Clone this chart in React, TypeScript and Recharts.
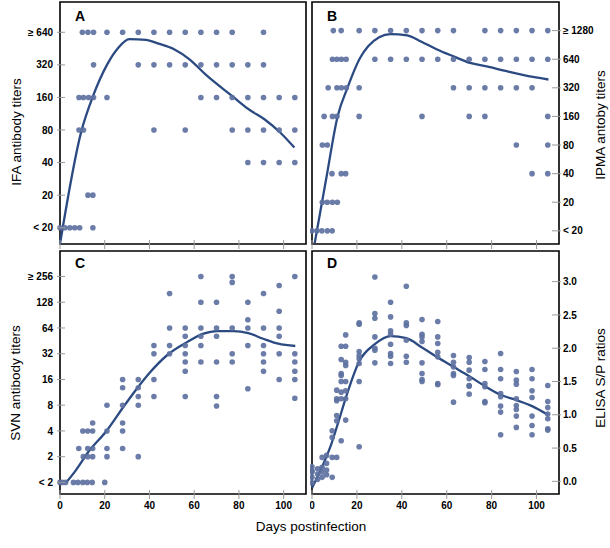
import { ComposedChart, Line, ReferenceArea, Scatter, XAxis, YAxis } from "recharts";

type Pt = [number, number];

const DAY_TICKS = [0, 20, 40, 60, 80, 100];

const IFA_LABELS = ["< 20", "20", "40", "80", "160", "320", "≥ 640"];
const IPMA_LABELS = ["< 20", "20", "40", "80", "160", "320", "640", "≥ 1280"];
const SVN_LABELS = ["< 2", "2", "4", "8", "16", "32", "64", "128", "≥ 256"];
const ELISA_TICKS = [0, 0.5, 1, 1.5, 2, 2.5, 3];

// [day, titer step] – step 0 is the lowest label
const IFA_DOTS: Pt[] = [
  [10, 6], [12.5, 6], [15, 6], [21, 6], [28, 6], [35, 6], [42, 6], [49, 6], [56, 6], [63, 6], [70, 6], [77, 6], [91, 6],
  [15, 5], [35, 5], [42, 5], [49, 5], [56, 5], [63, 5], [70, 5], [77, 5], [84, 5], [91, 5],
  [8.5, 4], [10.5, 4], [12.8, 4], [15, 4], [21, 4], [63, 4], [70, 4], [77, 4], [84, 4], [91, 4], [98, 4], [105, 4],
  [8.5, 3], [10.5, 3], [42, 3], [56, 3], [77, 3], [84, 3], [91, 3], [98, 3], [105, 3],
  [84, 2], [91, 2], [98, 2], [105, 2],
  [12.5, 1], [14.7, 1],
  [0, 0], [2.2, 0], [4.4, 0], [6.6, 0], [8.8, 0], [14.7, 0],
];
const IFA_FIT: Pt[] = [
  [0, -0.5], [9.5, 2.95], [14.7, 4.03], [21, 5.0], [25.9, 5.51], [31, 5.79], [38.5, 5.77], [43.7, 5.66],
  [51, 5.48], [57.9, 5.17], [65.3, 4.69], [77.2, 4.03], [84.7, 3.62], [91.4, 3.33], [98.8, 2.9], [104.8, 2.46],
];

const IPMA_DOTS: Pt[] = [
  [9.5, 7], [13, 7], [21, 7], [28, 7], [35, 7], [42, 7], [49, 7], [56, 7], [63, 7], [77, 7], [84, 7], [91, 7], [98, 7], [105, 7],
  [9.1, 6], [11.1, 6], [13.1, 6], [15.2, 6], [28, 6], [35, 6], [42, 6], [49, 6], [56, 6], [63, 6], [70, 6], [77, 6], [84, 6], [91, 6], [98, 6], [105, 6],
  [7.2, 5], [11.1, 5], [13.1, 5], [15.3, 5], [21, 5], [63, 5], [70, 5], [77, 5], [84, 5], [91, 5], [98, 5],
  [5.4, 4], [9.1, 4], [11.1, 4], [21, 4], [49, 4], [70, 4], [77, 4], [105, 4],
  [4.6, 3], [6.8, 3], [91, 3], [105, 3],
  [8.9, 2], [13, 2], [15, 2], [98, 2], [105, 2],
  [4.6, 1], [6.8, 1], [9.1, 1], [11.3, 1],
  [0, 0], [2.2, 0], [4.4, 0], [6.8, 0], [9, 0],
];
const IPMA_FIT: Pt[] = [
  [1.2, -0.43], [6.5, 1.9], [11.4, 4.0], [15.8, 5.0], [21.4, 6.04], [25, 6.45], [29.9, 6.77], [35, 6.88],
  [42.4, 6.83], [48.3, 6.63], [55.7, 6.34], [63, 6.1], [70.4, 5.87], [77.8, 5.75], [86.7, 5.58], [98.4, 5.38], [105.3, 5.29],
];

const SVN_DOTS: Pt[] = [
  [0, 0], [1, 0], [2.5, 0], [6, 0], [8, 0], [10.2, 0], [12.2, 0], [14.4, 0], [20, 0],
  [10.4, 1], [12.4, 1], [14.6, 1], [21, 1], [35, 1],
  [8.4, 1.32], [12.4, 1.32], [14.6, 1.32], [21, 1.32], [28, 1.32],
  [10.2, 2], [12.4, 2], [14.6, 2], [21, 2], [28, 2],
  [14.6, 2.31], [28, 2.31],
  [21, 3], [28, 3], [35, 3], [70, 2.97],
  [35, 3.34], [42, 3.34], [56, 3.34], [70, 3.34],
  [28, 3.68], [35, 3.68],
  [28, 4], [35, 4], [42, 4], [98, 4], [105, 4],
  [84, 3.64], [105, 3.27],
  [56, 4.32], [91, 4.32], [105, 4.32],
  [56, 4.68], [63, 4.68], [70, 4.68], [77, 4.68], [91, 4.68], [105, 4.68],
  [42, 5], [49, 5], [56, 5], [77, 5], [91, 5], [98, 5], [105, 5],
  [42, 5.32], [49, 5.32], [56, 5.32], [63, 5.32], [84, 5.32], [91, 5.32],
  [56, 5.68], [63, 5.68], [70, 5.68], [98, 5.68],
  [49, 6], [56, 6], [63, 6], [70, 6], [77, 6], [84, 6], [91, 6], [98, 6],
  [84, 6.32], [98, 6.65],
  [63, 7], [70, 7], [84, 7],
  [49, 7.34], [91, 7.34],
  [98, 7.65], [77, 7.77],
  [63, 8], [77, 8], [105, 8],
];
const SVN_FIT: Pt[] = [
  [2.8, 0], [6.9, 0.45], [12.8, 1.2], [20.5, 1.97], [28.5, 2.95], [34, 3.6], [40, 4.25], [48, 4.95],
  [56.8, 5.45], [64.2, 5.78], [70, 5.88], [77.6, 5.88], [84.2, 5.8], [90.9, 5.58], [97.6, 5.39], [105.2, 5.3],
];

const ELISA_DOTS: Pt[] = [
  [0, 0.22], [0, 0.14], [0, 0.06], [0, -0.02], [0, 0.16],
  [2.5, 0.19], [2.5, 0.11], [2.5, 0.03],
  [4.5, 0.36], [4.5, 0.21], [4.5, 0.14], [4.5, 0.06],
  [6.5, 0.39], [6.5, 0.27], [6.5, 0.17], [6.5, 0.1],
  [9, 0.76], [9, 0.66], [9, 0.36], [9, 0.06],
  [11, 1.37], [11, 1.24], [11, 1.21], [11, 0.99], [11, 0.91], [11, 0.36],
  [13, 2.03], [13, 1.83], [13, 1.62], [13, 1.59], [13, 1.5], [13, 1.34], [13, 1.24], [13, 0.61],
  [15, 2.2], [15, 2.03], [15, 1.79], [15, 1.74], [15, 1.5], [15, 1.36], [15, 1.24], [15, 0.92],
  [21, 2.38], [21, 2.36], [21, 1.95], [21, 1.89], [21, 1.84], [21, 1.77], [21, 1.5], [21, 0.52],
  [28, 3.07], [28, 2.52], [28, 2.45], [28, 2.17], [28, 2.0], [28, 1.97], [28, 1.78],
  [35, 2.69], [35, 2.47], [35, 2.26], [35, 2.21], [35, 2.06], [35, 1.92], [35, 1.88], [35, 1.77],
  [42, 2.93], [42, 2.38], [42, 2.34], [42, 2.12], [42, 1.88], [42, 1.79],
  [49, 2.43], [49, 2.21], [49, 2.17], [49, 2.1], [49, 1.78], [49, 1.62], [49, 1.53], [49, 1.5],
  [56, 2.4], [56, 2.17], [56, 2.07], [56, 1.94], [56, 1.87], [56, 1.47], [56, 1.45],
  [63, 1.89], [63, 1.79], [63, 1.72], [63, 1.62], [63, 1.59], [63, 1.19],
  [70, 1.86], [70, 1.79], [70, 1.67], [70, 1.54], [70, 1.44], [70, 1.43], [70, 1.31],
  [77, 1.8], [77, 1.68], [77, 1.47], [77, 1.42], [77, 1.2], [77, 1.18],
  [84, 1.92], [84, 1.68], [84, 1.54], [84, 1.32], [84, 1.27], [84, 1.13], [84, 1.04], [84, 0.7],
  [91, 1.65], [91, 1.52], [91, 1.46], [91, 1.24], [91, 1.14], [91, 1.08], [91, 0.98], [91, 0.81],
  [98, 1.68], [98, 1.54], [98, 1.36], [98, 1.26], [98, 0.98], [98, 0.84], [98, 0.7],
  [105, 1.44], [105, 1.2], [105, 1.11], [105, 1.01], [105, 0.94], [105, 0.79], [105, 0.77],
];
const ELISA_FIT: Pt[] = [
  [0, -0.1], [4.5, 0.22], [8.6, 0.56], [12, 0.92], [15.3, 1.28], [21, 1.8], [28, 2.06], [35, 2.18], [42, 2.15],
  [49, 2.01], [56, 1.86], [63, 1.72], [70, 1.58], [77, 1.43], [84, 1.3], [91, 1.22], [98, 1.13], [105, 1.0],
];

const DOT = "#5d71a0";
const FIT = "#2c4a82";
const TICK_GRAY = "#9a9a9a";
const FONT = "'Liberation Sans', Arial, sans-serif";

const toRows = (pts: Pt[]) => pts.map(([x, y]) => ({ x, y }));

function BottomTick(props: any) {
  const { x, y, payload, showLabel } = props;
  return (
    <g>
      <line x1={x} x2={x} y1={y - 4} y2={y + 5} stroke={TICK_GRAY} />
      {showLabel && (
        <text x={x} y={y + 15} textAnchor="middle" fontSize={10} fontWeight="bold" fill="#000" fontFamily={FONT}>
          {payload.value}
        </text>
      )}
    </g>
  );
}

function SideTick(props: any) {
  const { x, y, payload, side, format } = props;
  const label = format(payload.value);
  if (side === "left") {
    return (
      <g>
        <line x1={x - 3} x2={x + 5} y1={y} y2={y} stroke={TICK_GRAY} />
        <text x={x - 7} y={y} dy="0.36em" textAnchor="end" fontSize={10} fontWeight="bold" fill="#000" fontFamily={FONT}>
          {label}
        </text>
      </g>
    );
  }
  return (
    <g>
      <line x1={x - 7} x2={x + 2} y1={y} y2={y} stroke={TICK_GRAY} />
      <text x={x + 4} y={y} dy="0.36em" textAnchor="start" fontSize={10} fontWeight="bold" fill="#000" fontFamily={FONT}>
        {label}
      </text>
    </g>
  );
}

interface PanelProps {
  left: number;
  top: number;
  width: number;
  height: number;
  margin: { top: number; right: number; bottom: number; left: number };
  xHeight: number;
  showXLabels: boolean;
  side: "left" | "right";
  yDomain: [number, number];
  yTicks: number[];
  format: (v: number) => string;
  dots: Pt[];
  fit: Pt[];
}

function Panel(p: PanelProps) {
  return (
    <div style={{ position: "absolute", left: p.left, top: p.top }}>
      <ComposedChart width={p.width} height={p.height} margin={p.margin}>
        <XAxis
          type="number"
          dataKey="x"
          domain={[0, 110]}
          ticks={DAY_TICKS}
          interval={0}
          axisLine={false}
          tickLine={false}
          tickSize={0}
          tickMargin={0}
          height={p.xHeight}
          tick={(t: any) => <BottomTick {...t} showLabel={p.showXLabels} />}
        />
        <YAxis
          type="number"
          dataKey="y"
          orientation={p.side}
          domain={p.yDomain}
          ticks={p.yTicks}
          interval={0}
          axisLine={false}
          tickLine={false}
          tickSize={0}
          tickMargin={0}
          width={p.side === "left" ? 60 : 51}
          tick={(t: any) => <SideTick {...t} side={p.side} format={p.format} />}
        />
        <ReferenceArea
          x1={0}
          x2={110}
          y1={p.yDomain[0]}
          y2={p.yDomain[1]}
          fill="none"
          stroke="#000"
          strokeWidth={1.6}
        />
        <Scatter
          data={toRows(p.dots)}
          isAnimationActive={false}
          shape={(s: any) => <circle cx={s.cx} cy={s.cy} r={2.8} fill={DOT} fillOpacity={0.92} />}
        />
        <Line
          data={toRows(p.fit)}
          dataKey="y"
          type="monotone"
          stroke={FIT}
          strokeWidth={2.3}
          dot={false}
          activeDot={false}
          isAnimationActive={false}
        />
      </ComposedChart>
    </div>
  );
}

const stepLabel = (labels: string[]) => (v: number) => labels[v] ?? "";

export default function App() {
  return (
    <div style={{ position: "absolute", left: 0, top: 0, width: 610, height: 548, background: "#fff", fontFamily: FONT }}>
      <Panel
        left={0}
        top={0}
        width={310}
        height={250}
        margin={{ top: 2, right: 4, bottom: 0, left: 0 }}
        xHeight={6}
        showXLabels={false}
        side="left"
        yDomain={[-0.5, 6.93]}
        yTicks={IFA_LABELS.map((_, i) => i)}
        format={stepLabel(IFA_LABELS)}
        dots={IFA_DOTS}
        fit={IFA_FIT}
      />
      <Panel
        left={310}
        top={0}
        width={300}
        height={250}
        margin={{ top: 2, right: 0, bottom: 0, left: 2 }}
        xHeight={6}
        showXLabels={false}
        side="right"
        yDomain={[-0.46, 8.0]}
        yTicks={IPMA_LABELS.map((_, i) => i)}
        format={stepLabel(IPMA_LABELS)}
        dots={IPMA_DOTS}
        fit={IPMA_FIT}
      />
      <Panel
        left={0}
        top={250}
        width={310}
        height={270}
        margin={{ top: 1, right: 4, bottom: 0, left: 0 }}
        xHeight={26}
        showXLabels={true}
        side="left"
        yDomain={[-0.45, 8.99]}
        yTicks={SVN_LABELS.map((_, i) => i)}
        format={stepLabel(SVN_LABELS)}
        dots={SVN_DOTS}
        fit={SVN_FIT}
      />
      <Panel
        left={310}
        top={250}
        width={300}
        height={270}
        margin={{ top: 1, right: 0, bottom: 0, left: 2 }}
        xHeight={26}
        showXLabels={true}
        side="right"
        yDomain={[-0.19, 3.46]}
        yTicks={ELISA_TICKS}
        format={(v: number) => v.toFixed(1)}
        dots={ELISA_DOTS}
        fit={ELISA_FIT}
      />
      <svg width={610} height={548} style={{ position: "absolute", left: 0, top: 0, pointerEvents: "none" }}>
        <g fontFamily={FONT} fill="#000">
          <text x={75} y={21} fontSize={14} fontWeight="bold">A</text>
          <text x={327} y={21} fontSize={14} fontWeight="bold">B</text>
          <text x={75} y={268} fontSize={14} fontWeight="bold">C</text>
          <text x={327} y={268} fontSize={14} fontWeight="bold">D</text>
          <text transform="translate(21,132) rotate(-90)" textAnchor="middle" fontSize={13.5}>IFA antibody titers</text>
          <text transform="translate(20,383) rotate(-90)" textAnchor="middle" fontSize={13.5}>SVN antibody titers</text>
          <text transform="translate(605,125) rotate(-90)" textAnchor="middle" fontSize={13.5}>IPMA antoby titers</text>
          <text transform="translate(605,378) rotate(-90)" textAnchor="middle" fontSize={13.5}>ELISA S/P ratios</text>
          <text x={311} y={531} textAnchor="middle" fontSize={13.5}>Days postinfection</text>
        </g>
      </svg>
    </div>
  );
}
